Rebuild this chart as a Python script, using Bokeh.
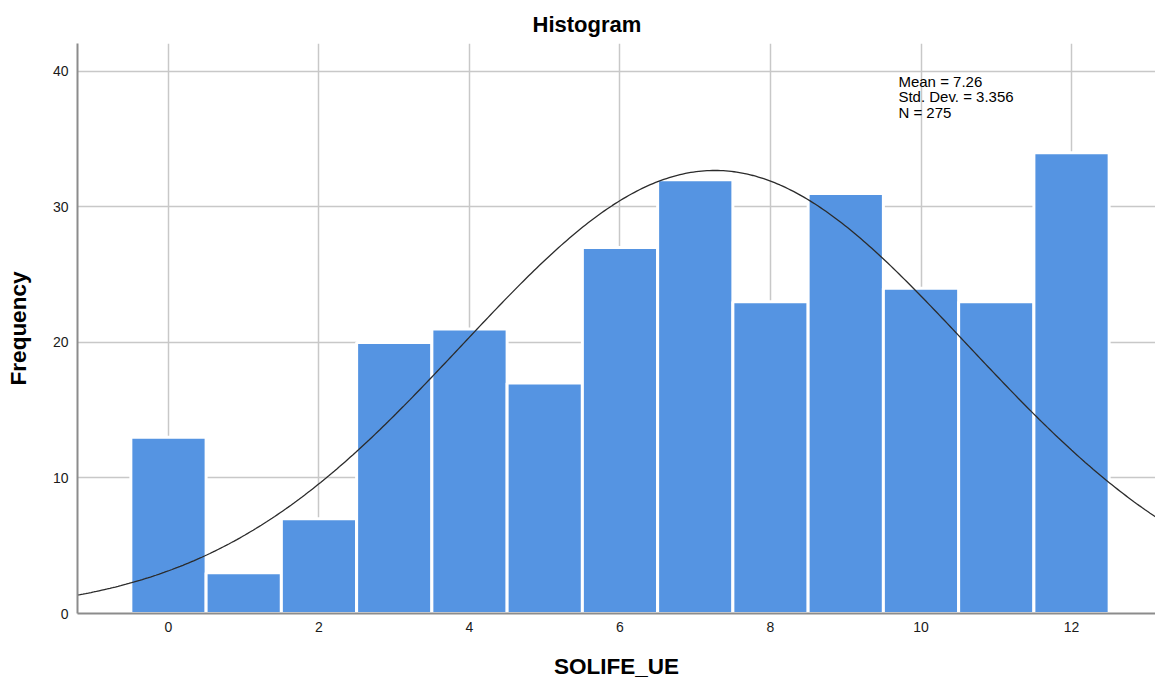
import numpy as np
from bokeh.plotting import figure
from bokeh.models import Range1d, Label, FixedTicker
from bokeh.embed import file_html
from bokeh.resources import INLINE

# Data
values = [0, 1, 2, 3, 4, 5, 6, 7, 8, 9, 10, 11, 12]
counts = [13, 3, 7, 20, 21, 17, 27, 32, 23, 31, 24, 23, 34]
mean = 7.26
std_dev = 3.356
n_obs = 275
x_ticks = [0, 2, 4, 6, 8, 10, 12]
y_ticks = [0, 10, 20, 30, 40]

FONT = "Liberation Sans"

p = figure(width=1155, height=686, output_backend="svg", toolbar_location=None,
           x_range=Range1d(-1.209, 13.116), y_range=Range1d(0, 42.06),
           min_border_left=77, min_border_right=0, min_border_top=43, min_border_bottom=73,
           title="Histogram")
p.outline_line_color = None
p.background_fill_color = "white"

p.title.align = "left"
p.title.offset = 455
p.title.standoff = 13
p.title.text_font = FONT
p.title.text_font_size = "22px"
p.title.text_font_style = "bold"
p.title.text_color = "#000000"

# grid
p.xgrid.ticker = FixedTicker(ticks=x_ticks)
p.ygrid.ticker = FixedTicker(ticks=y_ticks)
for g in (p.xgrid, p.ygrid):
    g.grid_line_color = "#c8c8c8"
    g.grid_line_width = 1.5

# axes
p.xaxis.ticker = FixedTicker(ticks=x_ticks)
p.yaxis.ticker = FixedTicker(ticks=y_ticks)
p.xaxis.axis_label = "SOLIFE_UE"
p.yaxis.axis_label = "Frequency"
for ax in (p.xaxis, p.yaxis):
    ax.axis_line_color = "#8c8c8c"
    ax.axis_line_width = 2
    ax.major_tick_line_color = None
    ax.minor_tick_line_color = None
    ax.major_tick_out = 0
    ax.major_tick_in = 0
    ax.major_label_text_font = FONT
    ax.major_label_text_font_size = "14px"
    ax.major_label_text_color = "#1a1a1a"
    ax.axis_label_text_font = FONT
    ax.axis_label_text_font_size = "22.5px"
    ax.axis_label_text_font_style = "bold"
    ax.axis_label_text_color = "#000000"
p.yaxis.major_label_standoff = 9
p.xaxis.major_label_standoff = 8
p.yaxis.axis_label_standoff = 19
p.xaxis.axis_label_standoff = 19

# bars
p.vbar(x=values, top=counts, width=1, bottom=0,
       fill_color="#5594e2", line_color="white", line_width=3)

# normal curve from stated statistics
xs = np.linspace(-1.209, 13.116, 400)
ys = n_obs * 1.0 / (std_dev * np.sqrt(2 * np.pi)) * np.exp(-0.5 * ((xs - mean) / std_dev) ** 2)
p.line(xs, ys, line_color="#2b2b2b", line_width=1.3)

stats_lines = [f"Mean = {mean}", f"Std. Dev. = {std_dev}", f"N = {n_obs}"]
for i, t in enumerate(stats_lines):
    p.add_layout(Label(x=9.70, y=39.9, y_offset=-15.5 * i, text=t, text_font=FONT,
                       text_font_size="15px", text_baseline="top", text_align="left",
                       text_color="#000000"))

open("out.html", "w").write(file_html(p, INLINE))
